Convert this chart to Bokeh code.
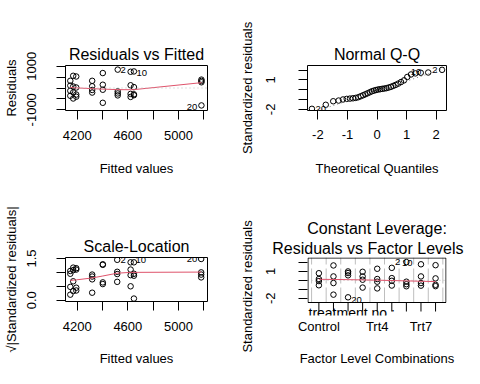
from bokeh.plotting import figure
from bokeh.models import Range1d, FixedTicker, Title, Span, Slope
from bokeh.layouts import column, row
from bokeh.core.properties import value
from bokeh.embed import file_html
from bokeh.resources import INLINE

FONT = "Liberation Sans"
RED = "#DF536B"
GRAY = "#BEBEBE"

# ---------------- Panel 1: Residuals vs Fitted ----------------
rf_fitted = [4145, 4145, 4145, 4145, 4168, 4168, 4168, 4168, 4192, 4192, 4192, 4192,
             4318, 4318, 4318, 4318, 4402, 4402, 4402, 4402, 4520, 4520, 4520, 4520,
             4622, 4622, 4622, 4622, 4648, 4648, 4648, 4648, 5182, 5182, 5182, 5182]
rf_resid = [330, 110, -129, -358, 560, 69, -200, -482, 528, 23, -300, -400,
            330, 80, -90, -210, 686, 150, -80, -680, 843, -155, -250, -340,
            745, 125, -270, -410, 760, 40, -330, -290, 385, 323, 262, -800]
rf_smooth_x = [4145, 4168, 4192, 4318, 4402, 4520, 4622, 4648, 5182]
rf_smooth_y = [30, 15, 5, -30, -50, -75, -80, -75, 245]
rf_xticks = [4200, 4400, 4600, 4800, 5000, 5200]
rf_xticklabels = ["4200", "", "4600", "", "5000", ""]
rf_yticks = [-1000, -500, 0, 500, 1000]
rf_yticklabels = ["-1000", "", "", "", "1000"]
rf_lab_left = {"x": [4542, 4669], "y": [835, 711], "text": ["2", "10"]}
rf_lab_right = {"x": [5149], "y": [-880], "text": ["20"]}

# ---------------- Panel 2: Normal Q-Q ----------------
qq_theo = [-2.200, -1.732, -1.480, -1.298, -1.150, -1.024, -0.913, -0.812, -0.719,
           -0.631, -0.549, -0.469, -0.393, -0.319, -0.246, -0.175, -0.105, -0.035,
           0.035, 0.105, 0.175, 0.246, 0.319, 0.393, 0.469, 0.549, 0.631,
           0.719, 0.812, 0.913, 1.024, 1.150, 1.298, 1.480, 1.732, 2.200]
qq_std = [-1.94, -1.53, -1.17, -1.10, -0.99, -0.93, -0.90, -0.87, -0.83,
          -0.76, -0.66, -0.56, -0.46, -0.36, -0.26, -0.16, -0.09, -0.03,
          0.02, 0.05, 0.09, 0.12, 0.16, 0.22, 0.29, 0.39, 0.49,
          0.62, 0.78, 0.95, 1.30, 1.55, 1.66, 1.72, 1.75, 2.02]
qq_line_slope = 1.0
qq_line_intercept = -0.125
qq_ticks = [-2, -1, 0, 1, 2]
qq_xticklabels = ["-2", "-1", "0", "1", "2"]
qq_yticklabels = ["-2", "", "", "1", ""]
qq_lab_left = {"x": [-2.08], "y": [-2.0], "text": ["20"]}
qq_lab_right = {"x": [1.50, 2.05], "y": [1.80, 2.05], "text": ["10", "2"]}

# ---------------- Panel 3: Scale-Location ----------------
sl_fitted = [4145, 4145, 4145, 4145, 4168, 4168, 4168, 4168, 4192, 4192, 4192, 4192,
             4318, 4318, 4318, 4318, 4402, 4402, 4402, 4402, 4516, 4516, 4516, 4516,
             4622, 4622, 4622, 4622, 4648, 4648, 4648, 4648, 5180, 5180, 5180, 5180]
sl_sqrt = [1.05, 0.95, 0.48, 0.20, 1.17, 1.08, 0.68, 0.33, 1.15, 1.10, 0.45, 0.35,
           0.92, 0.85, 0.75, 0.27, 1.29, 1.27, 0.64, 0.58, 1.45, 1.02, 0.94, 0.66,
           1.36, 1.10, 0.90, 0.50, 1.36, 0.95, 0.88, 0.06, 1.48, 1.00, 0.92, 0.82]
sl_smooth_x = [4145, 4168, 4192, 4318, 4402, 4516, 4622, 4648, 5180]
sl_smooth_y = [0.71, 0.72, 0.73, 0.80, 0.87, 0.97, 1.00, 1.00, 1.01]
sl_yticks = [0.0, 0.5, 1.0, 1.5]
sl_yticklabels = ["0.0", "", "", "1.5"]
sl_lab_left = {"x": [4542, 4661], "y": [1.45, 1.43], "text": ["2", "10"]}
sl_lab_right = {"x": [5149], "y": [1.49], "text": ["20"]}

# ---------------- Panel 4: Constant Leverage ----------------
fl_level = [0, 0, 0, 0, 1, 1, 1, 1, 2, 2, 2, 2, 3, 3, 3, 3, 4, 4, 4, 4,
            5, 5, 5, 5, 6, 6, 6, 6, 7, 7, 7, 7, 8, 8, 8, 8]
fl_std = [0.80, 0.15, -0.08, -0.55, 1.67, 0.44, -0.30, -1.60, 1.00, 0.82, 0.56, -1.90,
          0.96, 0.44, 0.07, -0.81, 1.30, 0.15, -0.15, -0.90, 1.40, 0.25, -0.05, -0.58,
          2.05, -0.15, -0.43, -0.66, 1.80, 0.44, -0.30, -0.59, 1.70, 0.22, -0.50, -0.65]
fl_smooth_x = [0, 1, 2, 3, 4, 5, 6, 7, 8]
fl_smooth_y = [0.12, 0.10, 0.08, 0.05, 0.02, -0.02, -0.06, -0.10, -0.14]
fl_bounds = [-0.5, 0.5, 1.5, 2.5, 3.5, 4.5, 5.5, 6.5, 7.5, 8.5]
fl_xticks = [0, 1, 2, 3, 4, 5, 6, 7, 8]
fl_labelled_ticks = [0, 4, 7]
fl_labelled_names = ["Control", "Trt4", "Trt7"]
fl_yticks = [-2, -1, 0, 1, 2]
fl_yticklabels = ["-2", "", "", "1", ""]
fl_lab_left = {"x": [2.22], "y": [-2.21], "text": ["20"]}
fl_lab_right = {"x": [5.58, 6.42], "y": [2.09, 1.90], "text": ["2", "10"]}
fl_factor_name = "treatment no :"

# plot-region limits of panel 4 (the drawn box) in data units
FL_X0, FL_X1 = -0.78, 8.75
FL_Y0, FL_Y1 = -2.48, 2.56


def make_fig(w, h, xr, yr, bl, br, bt, bb):
    p = figure(width=w, height=h, x_range=Range1d(*xr), y_range=Range1d(*yr),
               output_backend="svg", toolbar_location=None, title=None,
               min_border_left=bl, min_border_right=br, min_border_top=bt,
               min_border_bottom=bb)
    p.xgrid.visible = False
    p.ygrid.visible = False
    p.outline_line_color = "black"
    p.outline_line_width = 1
    p.outline_line_alpha = 1.0
    p.background_fill_color = "white"
    p.border_fill_color = "white"
    return p


def base_axis(ax):
    ax.axis_line_color = None
    ax.major_tick_out = 9
    ax.major_tick_in = 0
    ax.minor_tick_out = 0
    ax.minor_tick_in = 0
    ax.major_tick_line_color = "black"
    ax.minor_tick_line_color = None
    ax.major_label_text_font = FONT
    ax.major_label_text_font_size = "13px"
    ax.major_label_text_color = "black"
    ax.axis_label_text_font = FONT
    ax.axis_label_text_font_size = "13px"
    ax.axis_label_text_font_style = "normal"
    ax.axis_label_text_color = "black"


def style_y(p, yticks, ylabels, ylab, ys, yls):
    ya = p.yaxis[0]
    base_axis(ya)
    ya.ticker = FixedTicker(ticks=yticks)
    ya.major_label_overrides = {t: s for t, s in zip(yticks, ylabels)}
    ya.axis_label = ylab
    ya.major_label_orientation = "parallel"
    ya.major_label_standoff = ys
    ya.axis_label_standoff = yls


def style_x(p, xticks, xlabels, xlab, xs, xls):
    xa = p.xaxis[0]
    base_axis(xa)
    xa.ticker = FixedTicker(ticks=xticks)
    xa.major_label_overrides = {t: s for t, s in zip(xticks, xlabels)}
    xa.axis_label = xlab
    xa.major_label_standoff = xs
    xa.axis_label_standoff = xls


def add_title(p, text, standoff, align="center", offset=0):
    p.add_layout(Title(text=text, align=align, offset=offset, text_font=FONT, text_font_size="16px",
                       text_font_style="normal", text_color="black", standoff=standoff), "above")


def add_points(p, x, y):
    p.scatter(x, y, marker="circle", size=5.5, fill_color=None, line_color="black", line_width=1)


def add_ids(p, left, right):
    p.text(x=left["x"], y=left["y"], text=left["text"], text_font=value(FONT),
           text_font_size="9.5px", text_align="left", text_baseline="middle", text_color="black")
    p.text(x=right["x"], y=right["y"], text=right["text"], text_font=value(FONT),
           text_font_size="9.5px", text_align="right", text_baseline="middle", text_color="black")


LW, RW = 236, 228
TH, BH = 192, 176
RB = 70  # left border of the right-hand panels

# Panel 1
p1 = make_fig(LW, TH, (4107, 5230), (-1033, 1033), 65, LW - 65 - 142, 65, TH - 110)
style_x(p1, rf_xticks, rf_xticklabels, "Fitted values", 11, 18)
style_y(p1, rf_yticks, rf_yticklabels, "Residuals", 20, 6)
add_title(p1, "Residuals vs Fitted", 5)
p1.add_layout(Span(location=0, dimension="width", line_color=GRAY, line_dash="1 3", line_width=1))
add_points(p1, rf_fitted, rf_resid)
p1.line(rf_smooth_x, rf_smooth_y, line_color=RED, line_width=1)
add_ids(p1, rf_lab_left, rf_lab_right)

# Panel 2
p2 = make_fig(RW, TH, (-2.35, 2.35), (-2.11, 2.46), RB, RW - RB - 140, 65, TH - 110)
style_x(p2, qq_ticks, qq_xticklabels, "Theoretical Quantiles", 10, 19)
style_y(p2, qq_ticks, qq_yticklabels, "Standardized residuals", 23, 9)
add_title(p2, "Normal Q-Q", 5)
p2.add_layout(Slope(gradient=qq_line_slope, y_intercept=qq_line_intercept,
                    line_color="#7F7F7F", line_dash="1 3", line_width=1))
add_points(p2, qq_theo, qq_std)
add_ids(p2, qq_lab_left, qq_lab_right)

# Panel 3
p3 = make_fig(LW, BH, (4107, 5230), (-0.045, 1.533), 65, LW - 65 - 142, 65, BH - 110)
style_x(p3, rf_xticks, rf_xticklabels, "Fitted values", 11, 17)
style_y(p3, sl_yticks, sl_yticklabels, "\u221a|Standardized residuals|", 20, 6)
add_title(p3, "Scale-Location", 5)
add_points(p3, sl_fitted, sl_sqrt)
p3.line(sl_smooth_x, sl_smooth_y, line_color=RED, line_width=1)
add_ids(p3, sl_lab_left, sl_lab_right)

# Panel 4: the frame reaches EXT px below the drawn box so that the level ticks and
# the factor name (written just under the box, as R does) are inside it.
EXT = 13
PX_PER_UNIT_Y = 45.0 / (FL_Y1 - FL_Y0)
PX_PER_UNIT_X = 140.0 / (FL_X1 - FL_X0)
fl_y_bottom = FL_Y0 - EXT / PX_PER_UNIT_Y
p4 = make_fig(RW, BH, (FL_X0, FL_X1), (fl_y_bottom, FL_Y1), RB, RW - RB - 140, 65, BH - 65 - 45 - EXT)
p4.outline_line_color = None
style_y(p4, fl_yticks, fl_yticklabels, "Standardized residuals", 23, 9)
xa = p4.xaxis[0]
base_axis(xa)
xa.major_tick_out = 0
xa.major_tick_line_color = None
xa.ticker = FixedTicker(ticks=fl_labelled_ticks)
xa.major_label_overrides = {t: s for t, s in zip(fl_labelled_ticks, fl_labelled_names)}
xa.major_label_standoff = 3
xa.axis_label = "Factor Level Combinations"
xa.axis_label_standoff = 14
add_title(p4, "Residuals vs Factor Levels", 2, align="right", offset=-17)
add_title(p4, "Constant Leverage:", 0)
# vertical separators between levels, limited to the box
p4.segment(x0=fl_bounds, y0=[FL_Y0] * len(fl_bounds), x1=fl_bounds, y1=[FL_Y1] * len(fl_bounds),
           line_color=GRAY, line_dash="15 4", line_width=1)
p4.segment(x0=[FL_X0], y0=[0], x1=[FL_X1], y1=[0], line_color=GRAY, line_dash="1 3", line_width=1)
add_points(p4, fl_level, fl_std)
p4.line(fl_smooth_x, fl_smooth_y, line_color=RED, line_width=1)
add_ids(p4, fl_lab_left, fl_lab_right)
# the box (lines kept half a pixel inside the frame so they are not clipped)
hx, hy = 0.5 / PX_PER_UNIT_X, 0.5 / PX_PER_UNIT_Y
p4.quad(left=[FL_X0 + hx], right=[FL_X1 - hx], bottom=[FL_Y0], top=[FL_Y1 - hy],
        fill_color=None, line_color="black", line_width=1)
# tick marks at the levels, 9px long below the box
tick_len = 9.0 / PX_PER_UNIT_Y
p4.segment(x0=fl_xticks, y0=[FL_Y0] * len(fl_xticks), x1=fl_xticks,
           y1=[FL_Y0 - tick_len] * len(fl_xticks), line_color="black", line_width=1)
# factor name under the box
p4.text(x=[FL_X0 + 1.0 / PX_PER_UNIT_X], y=[FL_Y0 - 10.5 / PX_PER_UNIT_Y], text=[fl_factor_name],
        text_font=value(FONT), text_font_size="14px", text_align="left",
        text_baseline="alphabetic", text_color="black")

layout = row(column(p1, p3), column(p2, p4))
open("out.html", "w").write(file_html(layout, INLINE))
